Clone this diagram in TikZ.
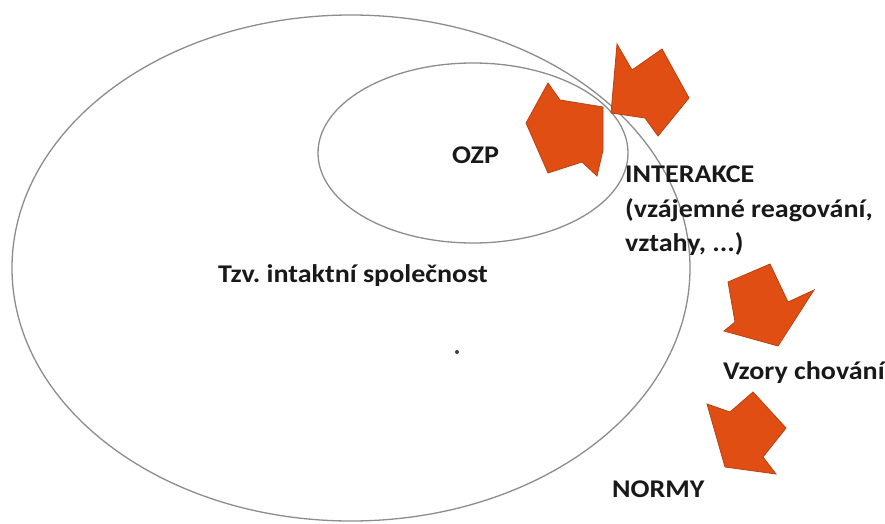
\documentclass[tikz,border=0pt]{standalone}
\usepackage{fontspec}
\setmainfont{Carlito}[FakeStretch=1.1]
\usepackage{tikz}
\definecolor{ArrowOrange}{HTML}{E04E14}
\definecolor{ArrowEdge}{HTML}{B8420F}
\definecolor{RingGray}{HTML}{8C8C8C}
\frenchspacing

\begin{document}
\begin{tikzpicture}[
    x=1pt, y=-1pt,
    ring/.style={draw=RingGray, line width=1.3pt},
    blockarrow/.style={fill=ArrowOrange, draw=ArrowEdge, line width=0.8pt, line join=miter},
    lbl/.style={inner sep=0pt, anchor=base west, font=\fontsize{25.5}{34.5}\selectfont\bfseries, text=black!90}
  ]
    \useasboundingbox (0,0) rectangle (885,524);
    % the two rings
    \draw[ring] (351,268) ellipse [x radius=339, y radius=253];
    \draw[ring] (473,153) ellipse [x radius=155, y radius=90];
    % interaction arrows
    \fill[blockarrow] (526,123) -- (548,83) -- (560,100) -- (603,107) -- (603,150)
      -- (597,176) -- (582,162) -- (548,173) -- cycle;
    \fill[blockarrow] (617,44) -- (632,70) -- (662,49) -- (689,98) -- (658,136)
      -- (645,118) -- (611,113) -- cycle;
    % arrows down the right side
    \fill[blockarrow] (728,282) -- (770,264) -- (788,302) -- (814,290) -- (778,346)
      -- (724,331) -- (735,322) -- cycle;
    \fill[blockarrow] (707,404) -- (730,412) -- (753,392) -- (786,428) -- (763,457)
      -- (776,474) -- (725,467) -- cycle;
    % texts
    \node[lbl] (ozp) at (452,163) {OZP};
    \node[lbl] (spol) at (218,282) {Tzv. intaktní společnost};
    \node[lbl, align=left, anchor=north west] (inter) at (625,166)
      {INTERAKCE\\(vzájemné reagování,\\vztahy, ...)};
    \node[lbl] (vzory) at (723,379) {Vzory chování};
    \node[lbl] (normy) at (612,497) {NORMY};
    \fill[black!75] (457,352) circle [radius=2];
\end{tikzpicture}
\end{document}
